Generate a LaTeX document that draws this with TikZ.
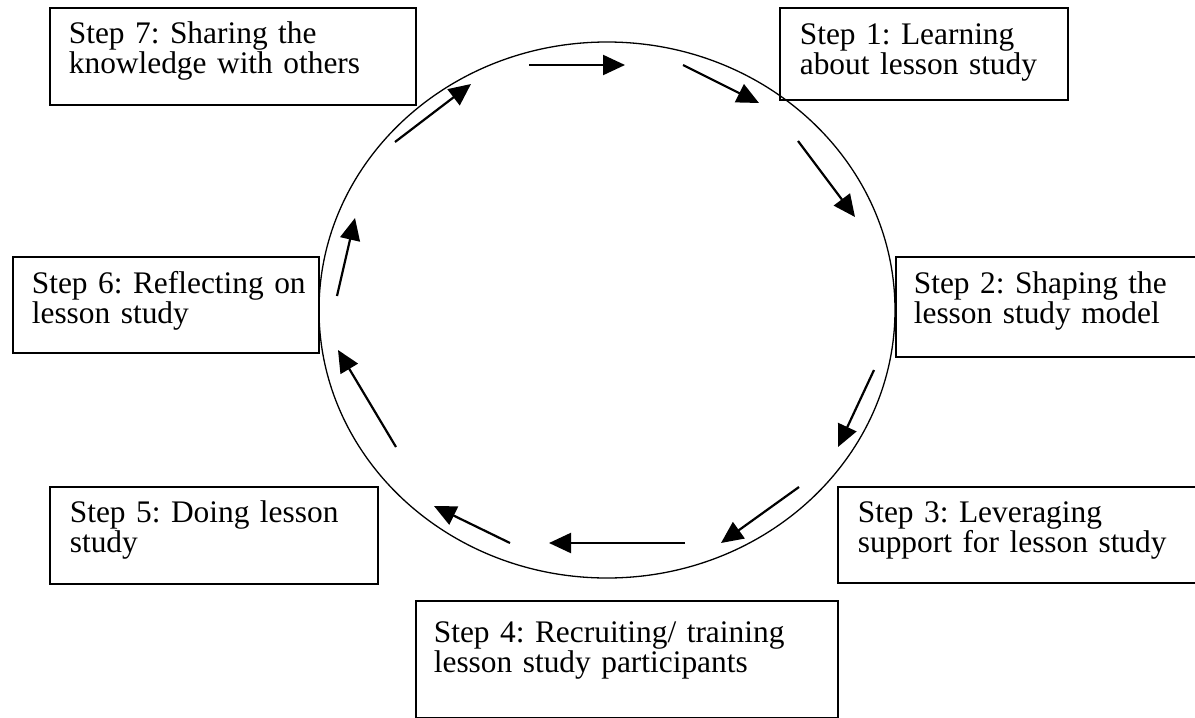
\documentclass[tikz,border=0pt]{standalone}
\usepackage{fontspec}
\setmainfont{Liberation Serif}
\usetikzlibrary{arrows.meta,shapes.geometric}
\tikzset{
  stepbox/.style={draw, line width=0.85pt, anchor=north west, inner ysep=0pt,
    align=left, font=\fontsize{15.7pt}{15pt}\selectfont\frenchspacing},
  ring/.style={draw, ellipse, line width=0.65pt, inner sep=0pt},
  arr/.style={line width=1.1pt, -{Triangle[length=11pt,width=10pt]}}
}
\begin{document}
\begin{tikzpicture}[x=0.5pt,y=-0.5pt]
\useasboundingbox (0,0) rectangle (1195,718);
% cycle
\node[ring, minimum width=288pt, minimum height=268pt] (ring) at (607,310) {};
% boxes
\node[stepbox, inner xsep=9.5pt, text width=164pt, text height=18pt, text depth=30.5pt]
  (s7) at (49,7) {\mbox{Step 7: Sharing the}\\\mbox{knowledge with others}};
\node[stepbox, inner xsep=10pt, text width=124pt, text height=18.5pt, text depth=27.5pt]
  (s1) at (779,7) {\mbox{Step 1: Learning}\\\mbox{about lesson study}};
\node[stepbox, inner xsep=9.5pt, text width=134pt, text height=18.5pt, text depth=29.5pt]
  (s6) at (12,256) {\mbox{Step 6: Reflecting on}\\\mbox{lesson study}};
\node[stepbox, inner xsep=9pt, text width=133pt, text height=18.5pt, text depth=31.5pt]
  (s2) at (895,256) {\mbox{Step 2: Shaping the}\\\mbox{lesson study model}};
\node[stepbox, inner xsep=10pt, text width=144pt, text height=18pt, text depth=30.5pt]
  (s5) at (49,486) {\mbox{Step 5: Doing lesson}\\\mbox{study}};
\node[stepbox, inner xsep=10pt, text width=160pt, text height=18pt, text depth=30pt]
  (s3) at (837,486) {\mbox{Step 3: Leveraging}\\\mbox{support for lesson study}};
\node[stepbox, inner xsep=9pt, text width=193pt, text height=21pt, text depth=37.5pt]
  (s4) at (415,600) {\mbox{Step 4: Recruiting/ training}\\\mbox{lesson study participants}};
% arrow end points
\coordinate (a1s) at (529,65);  \coordinate (a1e) at (625,65);
\coordinate (a2s) at (683,65);  \coordinate (a2e) at (759,103);
\coordinate (a3s) at (798,141); \coordinate (a3e) at (855,217);
\coordinate (a4s) at (874,370); \coordinate (a4e) at (838,447);
\coordinate (a5s) at (799,487); \coordinate (a5e) at (721,543);
\coordinate (a6s) at (685,543); \coordinate (a6e) at (549,543);
\coordinate (a7s) at (510,543); \coordinate (a7e) at (434,506);
\coordinate (a8s) at (396,447); \coordinate (a8e) at (338,350);
\coordinate (a9s) at (337,296); \coordinate (a9e) at (355,218);
\coordinate (a10s) at (395,142); \coordinate (a10e) at (471,84);
\foreach \i in {1,...,10} \draw[arr] (a\i s) -- (a\i e);
\end{tikzpicture}
\end{document}
